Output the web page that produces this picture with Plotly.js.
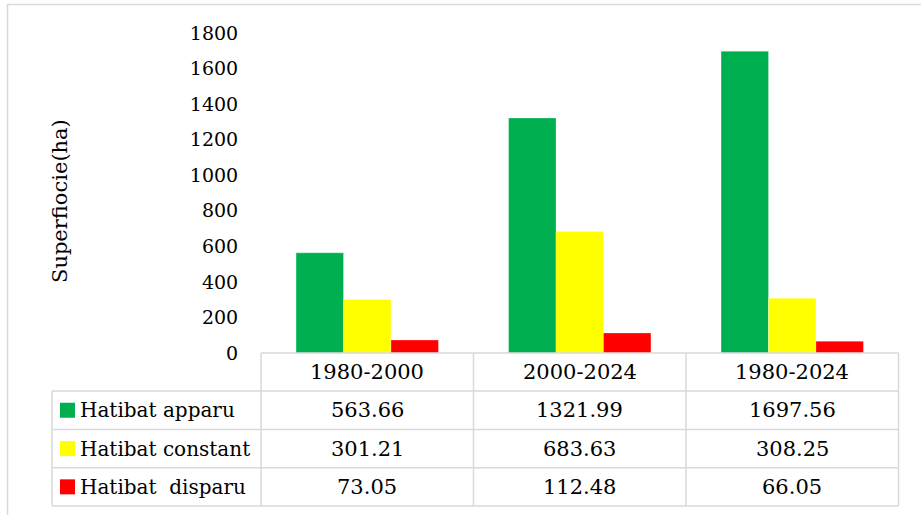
<!DOCTYPE html>
<html>
<head>
<meta charset="utf-8">
<script src="https://cdn.plot.ly/plotly-3.0.1.min.js"></script>
<style>html,body{margin:0;padding:0;background:#fff;}#chart{width:921px;height:515px;}</style>
</head>
<body>
<div id="chart"></div>
<script>
// ---- data ----
const categories = ['1980-2000', '2000-2024', '1980-2024'];
const seriesNames = ['Hatibat apparu', 'Hatibat constant', 'Hatibat  disparu'];
const apparu = [563.66, 1321.99, 1697.56];
const constant = [301.21, 683.63, 308.25];
const disparu = [73.05, 112.48, 66.05];
const yTicks = [0, 200, 400, 600, 800, 1000, 1200, 1400, 1600, 1800];
const yTitle = 'Superfiocie(ha)';

const seriesValues = [apparu, constant, disparu];
const colors = ['#00B050', '#FFFF00', '#FF0000'];

// ---- layout helpers (pixels -> paper) ----
const W = 921, H = 515;
const px = x => x / W;
const py = y => 1 - y / H;
const plotL = 261, plotR = 898.5, plotT = 33, plotB = 353;
const rowYs = [353, 391, 429.5, 467.7, 506];
const tableL = 52;
const colXs = [plotL];
for (let i = 1; i <= categories.length; i++) colXs.push(plotL + (plotR - plotL) * i / categories.length);
const font = 'DejaVu Serif';
const lineCol = '#d9d9d9';

const traces = seriesValues.map((vals, i) => ({
  type: 'bar',
  x: categories,
  y: vals,
  name: seriesNames[i],
  marker: {color: colors[i], line: {color: 'rgba(255,255,255,0.35)', width: 0.8}},
  showlegend: false,
  hoverinfo: 'x+y+name'
}));

const shapes = [];
const annotations = [];
// outer chart border (top + left)
shapes.push({type: 'line', xref: 'paper', yref: 'paper', x0: px(7), x1: px(W), y0: py(4.5), y1: py(4.5), line: {color: lineCol, width: 1.5}});
shapes.push({type: 'line', xref: 'paper', yref: 'paper', x0: px(7.5), x1: px(7.5), y0: py(4), y1: py(H), line: {color: lineCol, width: 1.5}});

// data table grid
rowYs.forEach((y, i) => {
  shapes.push({type: 'line', xref: 'paper', yref: 'paper', x0: px(i === 0 ? plotL : tableL), x1: px(plotR), y0: py(y), y1: py(y), line: {color: lineCol, width: 1.5}});
});
shapes.push({type: 'line', xref: 'paper', yref: 'paper', x0: px(tableL), x1: px(tableL), y0: py(rowYs[1]), y1: py(rowYs[4]), line: {color: lineCol, width: 1.5}});
colXs.forEach(x => {
  shapes.push({type: 'line', xref: 'paper', yref: 'paper', x0: px(x), x1: px(x), y0: py(rowYs[0]), y1: py(rowYs[4]), line: {color: lineCol, width: 1.5}});
});

// header labels
categories.forEach((c, j) => {
  annotations.push({xref: 'paper', yref: 'paper', x: px((colXs[j] + colXs[j + 1]) / 2), y: py((rowYs[0] + rowYs[1]) / 2),
    text: c, showarrow: false, xanchor: 'center', yanchor: 'middle', font: {family: font, size: 21, color: '#000'}});
});
// rows: legend key + values
seriesNames.forEach((name, i) => {
  const yc = (rowYs[i + 1] + rowYs[i + 2]) / 2;
  shapes.push({type: 'rect', xref: 'paper', yref: 'paper', x0: px(60), x1: px(75), y0: py(yc - 7.5), y1: py(yc + 7.5), fillcolor: colors[i], line: {width: 0}});
  annotations.push({xref: 'paper', yref: 'paper', x: px(78), y: py(yc), text: name.replace(/  /g, ' \u00a0'), showarrow: false,
    xanchor: 'left', yanchor: 'middle', font: {family: font, size: 20, color: '#000'}});
  seriesValues[i].forEach((v, j) => {
    annotations.push({xref: 'paper', yref: 'paper', x: px((colXs[j] + colXs[j + 1]) / 2), y: py(yc), text: v.toFixed(2), showarrow: false,
      xanchor: 'center', yanchor: 'middle', font: {family: font, size: 21, color: '#000'}});
  });
});
// axis title
annotations.push({xref: 'paper', yref: 'paper', x: px(60), y: py(201), text: yTitle, textangle: -90, showarrow: false,
  xanchor: 'center', yanchor: 'middle', font: {family: font, size: 21, color: '#000'}});

const layout = {
  width: W, height: H,
  margin: {l: 0, r: 0, t: 0, b: 0, pad: 0},
  paper_bgcolor: '#fff', plot_bgcolor: '#fff',
  barmode: 'group', bargap: 0.33, bargroupgap: 0,
  showlegend: false,
  xaxis: {domain: [px(plotL), px(plotR)], type: 'category', range: [-0.5, 2.5], showticklabels: false,
    showgrid: false, zeroline: false, showline: false, ticks: '', fixedrange: true},
  yaxis: {domain: [py(plotB), py(plotT)], range: [0, 1800], tickvals: yTicks, ticktext: yTicks.map(String),
    showgrid: false, zeroline: false, showline: false, ticks: 'outside', ticklen: 18, tickcolor: 'rgba(0,0,0,0)',
    tickfont: {family: font, size: 19, color: '#000'}, fixedrange: true},
  shapes: shapes,
  annotations: annotations,
  font: {family: font}
};

Plotly.newPlot('chart', traces, layout, {displayModeBar: false, staticPlot: true});
</script>
</body>
</html>
